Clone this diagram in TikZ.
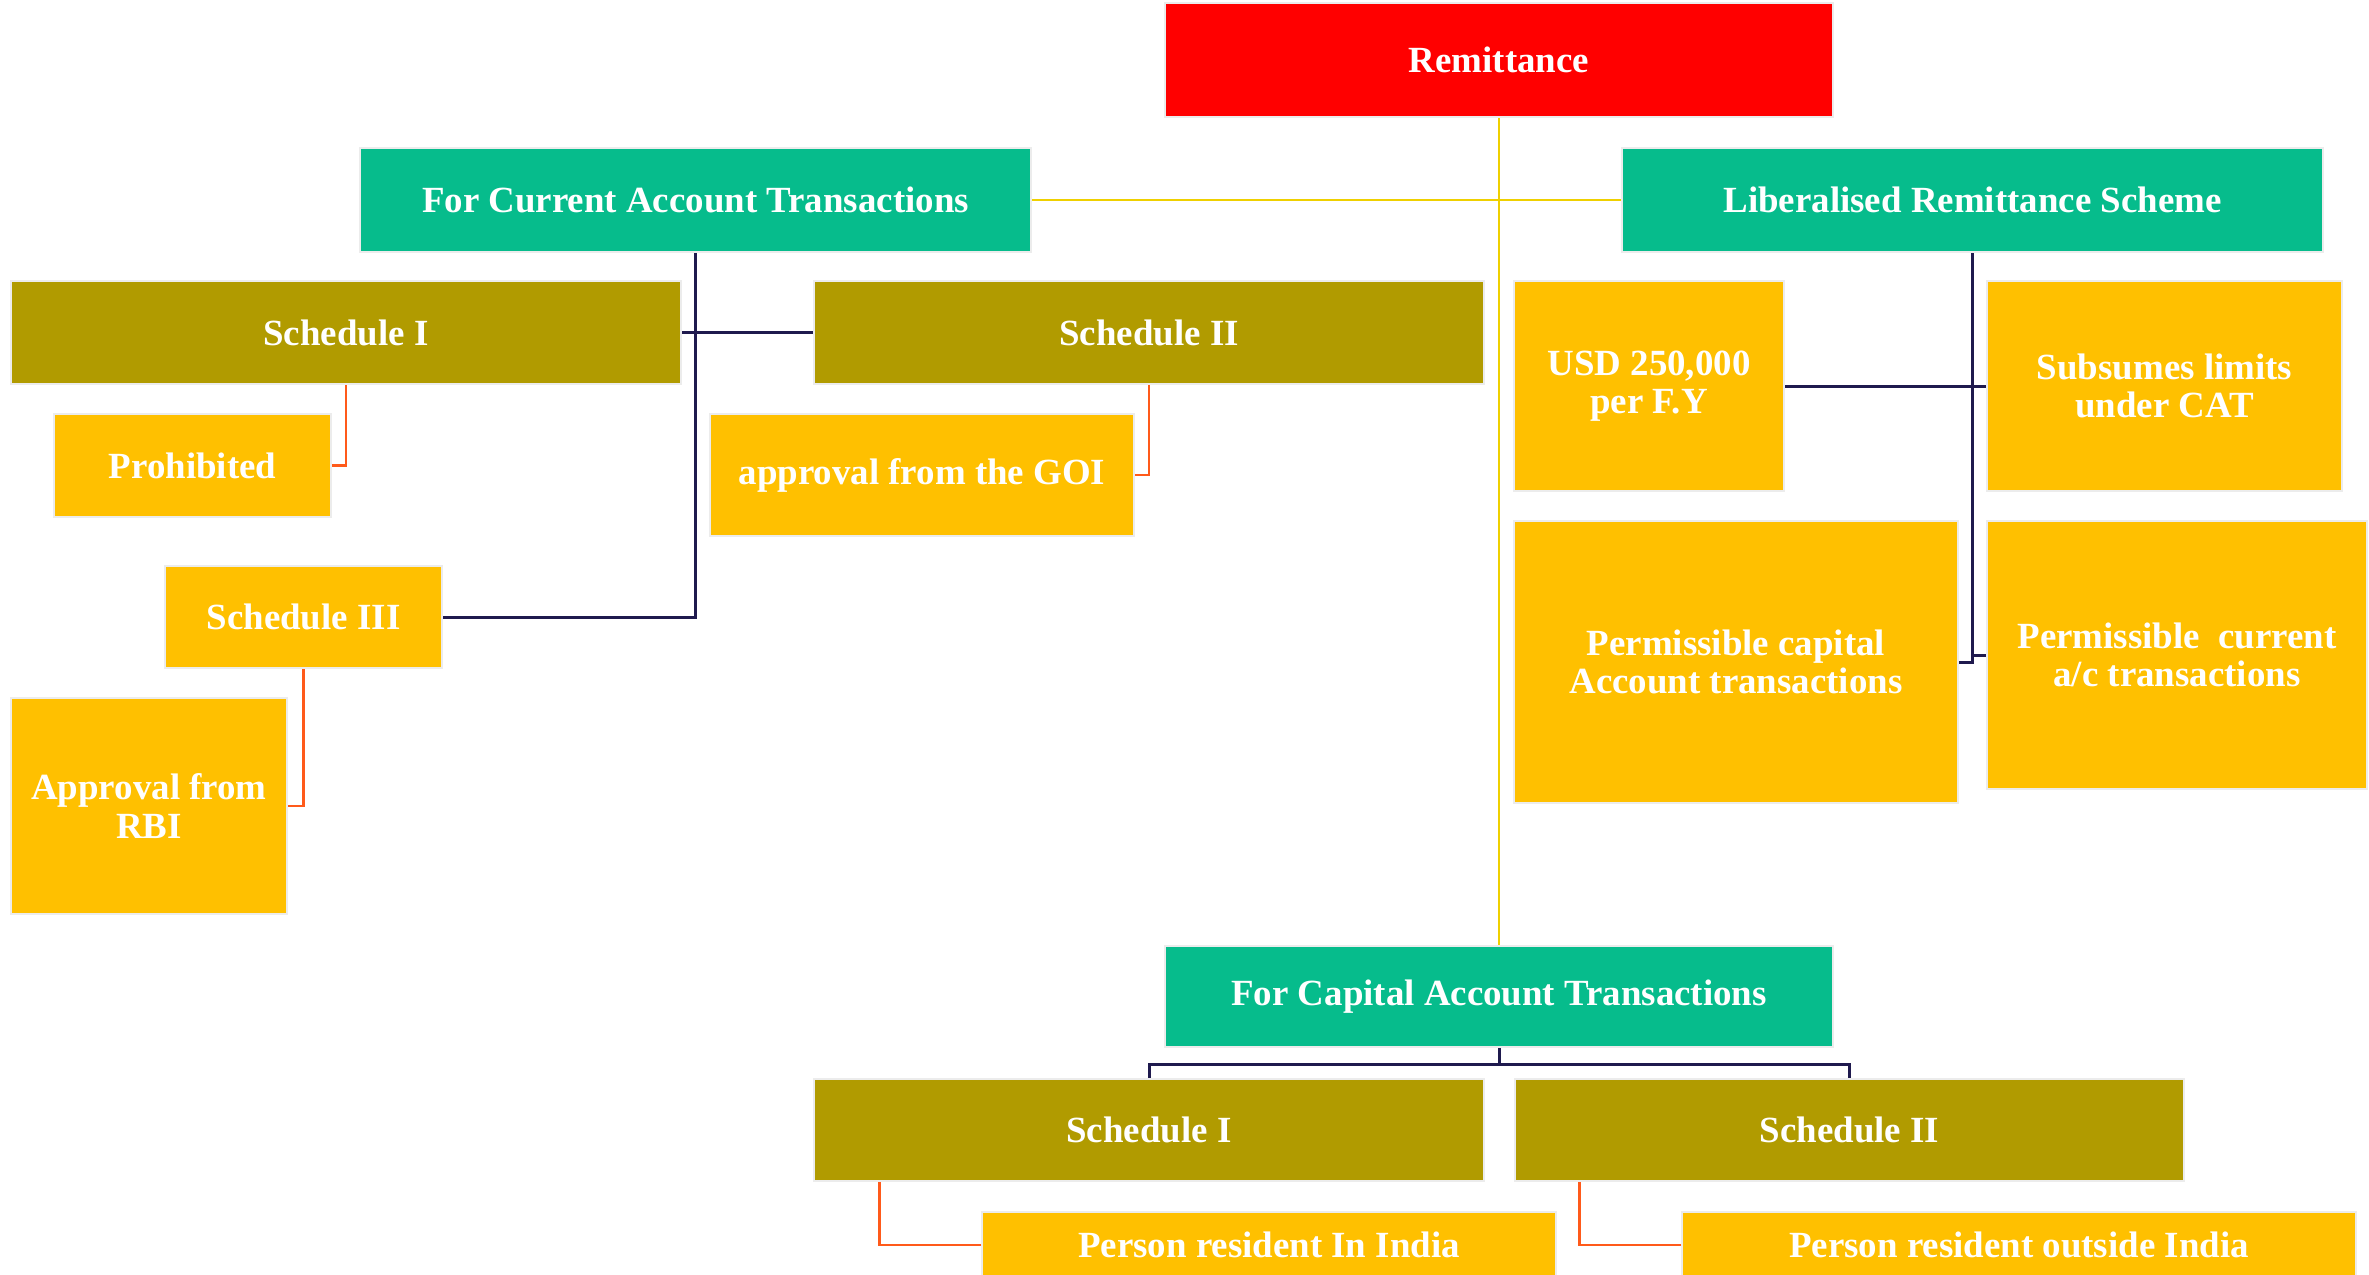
\documentclass[tikz,border=0pt]{standalone}
\usepackage{fontspec}
\setmainfont{Liberation Serif}
\usepackage{tikz}

\definecolor{remred}{HTML}{FF0000}
\definecolor{schteal}{HTML}{06BC8C}
\definecolor{schoive}{HTML}{B19B00}
\definecolor{leafamber}{HTML}{FFC000}
\definecolor{linknavy}{HTML}{1F1A4E}
\definecolor{linkorange}{HTML}{FF5A1A}
\definecolor{linkyellow}{HTML}{EFD000}

\tikzset{
  box/.style={draw=gray!15, line width=1.4pt, text=white, align=center, inner sep=0pt,
    font=\bfseries\fontsize{21}{22}\selectfont},
  redbox/.style={box, fill=remred},
  tealbox/.style={box, fill=schteal},
  olivebox/.style={box, fill=schoive},
  amberbox/.style={box, fill=leafamber},
  navyline/.style={draw=linknavy, line width=1.7pt},
  orangeline/.style={draw=linkorange, line width=1.6pt},
  yelline/.style={draw=linkyellow, line width=1.2pt}
}

\begin{document}
\begin{tikzpicture}
	\useasboundingbox (0,0) rectangle (47.38,-25.48);

	\node[redbox,minimum width=13.36cm,minimum height=2.28cm] (rem) at (29.98,-1.20) {Remittance};
	\node[tealbox,minimum width=13.42cm,minimum height=2.08cm] (cat) at (13.91,-4.00) {For Current Account Transactions};
	\node[tealbox,minimum width=14.02cm,minimum height=2.08cm] (lrs) at (39.45,-4.00) {Liberalised Remittance Scheme};
	\node[tealbox,minimum width=13.36cm,minimum height=2.02cm] (cap) at (29.98,-19.93) {For Capital Account Transactions};

	\node[olivebox,minimum width=13.40cm,minimum height=2.06cm] (csa) at (6.92,-6.65) {Schedule I};
	\node[olivebox,minimum width=13.40cm,minimum height=2.06cm] (csb) at (22.98,-6.65) {Schedule II};
	\node[amberbox,minimum width=5.54cm,minimum height=2.04cm] (csc) at (6.07,-12.34) {Schedule III};
	\node[amberbox,minimum width=5.54cm,minimum height=2.06cm] (proh) at (3.85,-9.31) {Prohibited};
	\node[amberbox,minimum width=8.48cm,minimum height=2.44cm] (goi) at (18.44,-9.50) {approval from the GOI};
	\node[amberbox,minimum width=5.52cm,minimum height=4.32cm] (rbi) at (2.98,-16.12) {Approval from\\RBI};

	\node[amberbox,minimum width=5.40cm,minimum height=4.20cm] (usd) at (32.98,-7.72) {USD 250,000\\per F.Y};
	\node[amberbox,minimum width=7.10cm,minimum height=4.20cm] (sub) at (43.29,-7.72) {Subsumes limits\\under CAT};
	\node[amberbox,minimum width=8.88cm,minimum height=5.64cm] (pcap) at (34.72,-13.24) {Permissible capital\\Account transactions};
	\node[amberbox,minimum width=7.60cm,minimum height=5.36cm] (pcur) at (43.54,-13.10) {Permissible\ \ current\\a/c transactions};

	\node[olivebox,minimum width=13.40cm,minimum height=2.04cm] (ksa) at (22.98,-22.60) {Schedule I};
	\node[olivebox,minimum width=13.38cm,minimum height=2.04cm] (ksb) at (36.99,-22.60) {Schedule II};
	\node[amberbox,minimum width=11.48cm,minimum height=1.32cm] (pin) at (25.38,-24.90) {Person resident In India};
	\node[amberbox,minimum width=13.48cm,minimum height=1.32cm] (pout) at (40.38,-24.90) {Person resident outside India};

	% main trunk
	\draw[yelline] (rem.south) -- (cap.north);
	\draw[yelline] (cat.east) -- (lrs.west);

	% current account
	\draw[navyline] (cat.south) |- (csa.east);
	\draw[navyline] (cat.south) |- (csb.west);
	\draw[navyline] (cat.south) |- (csc.east);
	\draw[orangeline] (csa.south) |- (proh.east);
	\draw[orangeline] (csb.south) |- (goi.east);
	\draw[orangeline] (csc.south) |- (rbi.east);

	% LRS
	\draw[navyline] (lrs.south) |- (usd.east);
	\draw[navyline] (lrs.south) |- (sub.west);
	\draw[navyline] (lrs.south) |- (pcap.east);
	\draw[navyline] (lrs.south) |- (pcur.west);

	% capital account
	\draw[navyline] (cap.south) -- ++(0,-0.32) -| (ksa.north);
	\draw[navyline] (cap.south) -- ++(0,-0.32) -| (ksb.north);
	\draw[orangeline] ([xshift=1.34cm]ksa.south west) |- (pin.west);
	\draw[orangeline] ([xshift=1.32cm]ksb.south west) |- (pout.west);
\end{tikzpicture}
\end{document}
